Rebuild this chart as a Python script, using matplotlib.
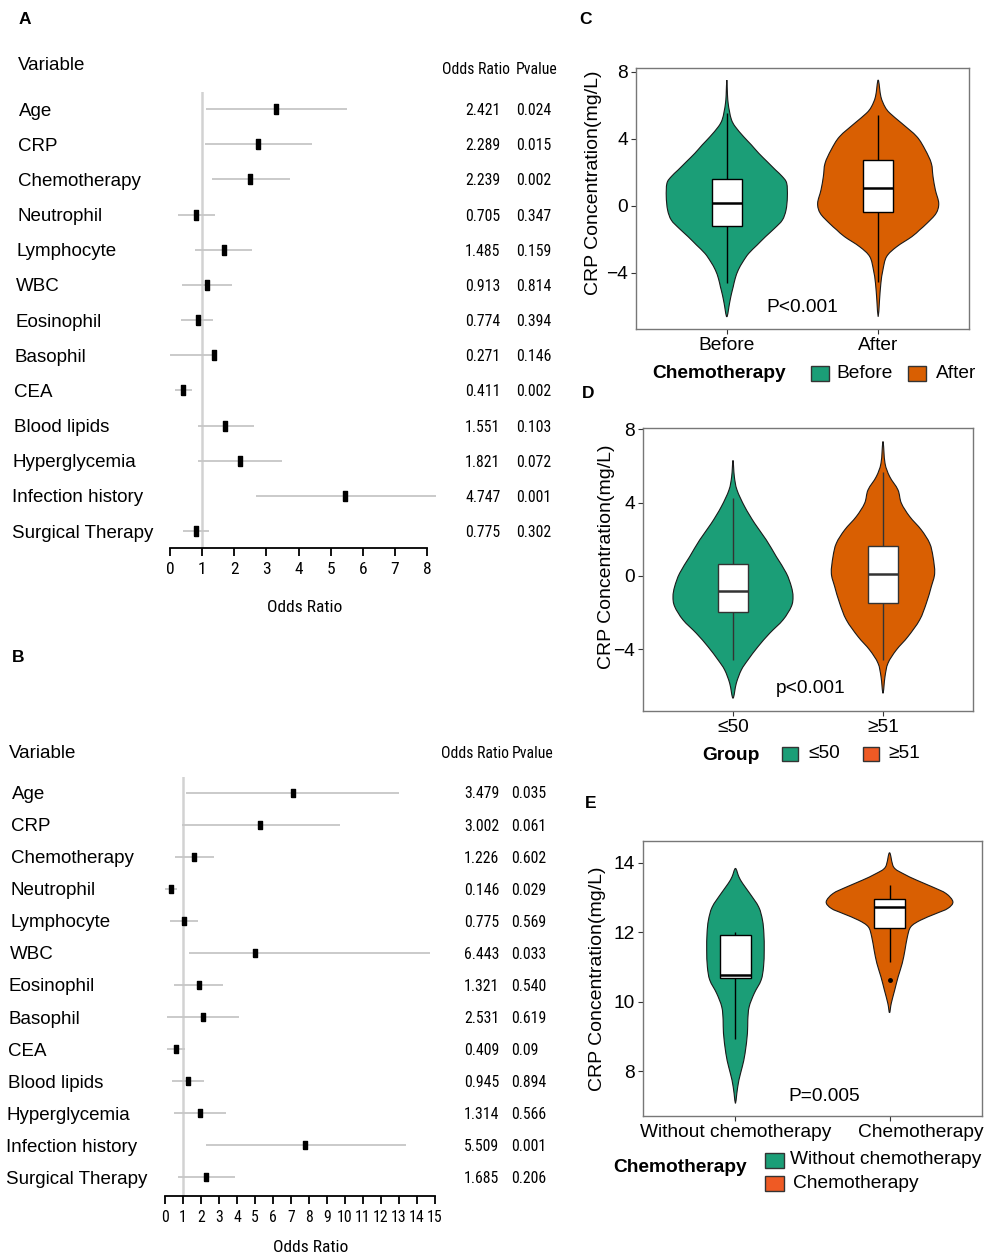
import os

import numpy as np
import matplotlib

matplotlib.use("Agg")
import matplotlib.pyplot as plt
from matplotlib import font_manager
from matplotlib.font_manager import FontProperties
from matplotlib.path import Path
from matplotlib.patches import PathPatch, Rectangle
from matplotlib.transforms import blended_transform_factory, ScaledTranslation

W, H = 985, 1254

# ---- forest plot data ------------------------------------------------------
VARIABLES = ["Age", "CRP", "Chemotherapy", "Neutrophil", "Lymphocyte", "WBC",
             "Eosinophil", "Basophil", "CEA", "Blood lipids", "Hyperglycemia",
             "Infection history", "Surgical Therapy"]

A_EST = [3.30, 2.75, 2.50, 0.82, 1.67, 1.16, 0.86, 1.38, 0.42, 1.71, 2.17, 5.46, 0.80]
A_LO = [1.12, 1.09, 1.31, 0.25, 0.78, 0.37, 0.35, 0.00, 0.16, 0.86, 0.88, 2.68, 0.40]
A_HI = [5.51, 4.42, 3.73, 1.39, 2.55, 1.94, 1.35, 1.47, 0.68, 2.60, 3.49, 8.29, 1.21]
A_OR = ["2.421", "2.289", "2.239", "0.705", "1.485", "0.913", "0.774", "0.271",
        "0.411", "1.551", "1.821", "4.747", "0.775"]
A_P = ["0.024", "0.015", "0.002", "0.347", "0.159", "0.814", "0.394", "0.146",
       "0.002", "0.103", "0.072", "0.001", "0.302"]

B_EST = [7.10, 5.30, 1.63, 0.36, 1.07, 5.00, 1.90, 2.10, 0.60, 1.28, 1.92, 7.80, 2.30]
B_LO = [1.17, 0.93, 0.53, 0.00, 0.29, 1.34, 0.50, 0.12, 0.12, 0.39, 0.50, 2.30, 0.73]
B_HI = [13.0, 9.70, 2.70, 0.67, 1.84, 14.7, 3.20, 4.10, 1.10, 2.17, 3.40, 13.4, 3.90]
B_OR = ["3.479", "3.002", "1.226", "0.146", "0.775", "6.443", "1.321", "2.531",
        "0.409", "0.945", "1.314", "5.509", "1.685"]
B_P = ["0.035", "0.061", "0.602", "0.029", "0.569", "0.033", "0.540", "0.619",
       "0.09", "0.894", "0.566", "0.001", "0.206"]

# ---- violin data: outline profile (value, relative half width) + box stats --
C_CATS = ["Before", "After"]
C_BEFORE_Y = [7.50, 6.60, 6.11, 5.62, 5.12, 4.72, 4.12, 3.63, 3.13, 2.63, 2.13, 1.74,
              1.34, 0.54, -0.26, -0.86, -1.35, -1.85, -2.35, -2.85, -3.34, -3.84,
              -4.34, -4.84, -5.33, -5.83, -6.63]
C_BEFORE_W = [0, 2, 4, 8, 14, 25, 50, 73, 95, 120, 145, 165, 178, 180, 176, 165,
              142, 115, 90, 65, 48, 34, 25, 19, 13, 8, 0]
C_AFTER_Y = [7.50, 6.51, 5.91, 5.52, 4.92, 4.12, 3.33, 2.53, 1.74, 0.94, 0.14, -0.46,
             -1.05, -1.45, -1.85, -2.45, -3.04, -3.84, -4.63, -5.63, -6.63]
C_AFTER_W = [0, 8, 20, 35, 70, 115, 140, 158, 163, 170, 180, 172, 145, 123, 100,
             55, 25, 14, 8, 4, 0]
C_BOXES = [(-4.60, -1.21, 0.18, 1.61, 5.51), (-4.53, -0.40, 1.08, 2.73, 5.41)]

D_CATS = ["≤50", "≥51"]
D_LOW_Y = [6.30, 5.42, 4.69, 3.78, 2.87, 1.96, 1.05, 0.15, -0.58, -1.13, -1.67,
           -2.40, -3.13, -3.86, -4.58, -5.13, -5.85, -6.67]
D_LOW_W = [0, 4, 12, 35, 65, 100, 130, 160, 175, 180, 175, 150, 110, 75, 45, 25, 10, 0]
D_HIGH_Y = [7.33, 6.15, 5.42, 4.69, 3.97, 3.24, 2.51, 1.78, 1.05, 0.15, -0.58,
            -1.49, -2.40, -3.31, -4.04, -4.76, -5.49, -6.40]
D_HIGH_W = [0, 6, 20, 45, 55, 80, 115, 140, 150, 155, 145, 130, 110, 75, 40, 15, 6, 0]
D_BOXES = [(-4.58, -1.95, -0.80, 0.64, 4.24), (-4.58, -1.47, 0.09, 1.64, 5.69)]

E_CATS = ["Without chemotherapy", "Chemotherapy"]
E_WO_Y = [13.83, 13.59, 13.40, 13.11, 12.72, 12.34, 11.96, 11.48, 11.00, 10.62,
          10.24, 9.85, 9.47, 9.09, 8.51, 8.13, 7.74, 7.36, 7.07]
E_WO_W = [0, 10, 21, 42, 68, 79, 83, 84, 82, 75, 55, 40, 36, 35, 28, 20, 10, 4, 0]
E_CH_Y = [14.28, 13.87, 13.68, 13.49, 13.30, 13.11, 12.87, 12.68, 12.53, 12.34,
          12.15, 11.86, 11.48, 11.10, 10.71, 10.33, 9.95, 9.68]
E_CH_W = [0, 12, 40, 80, 125, 165, 185, 170, 135, 90, 62, 52, 45, 37, 25, 15, 5, 0]
E_BOXES = [(8.92, 10.68, 10.76, 11.93, 12.00), (11.14, 12.13, 12.71, 12.95, 13.35)]
E_OUTLIERS = [[], [10.62]]

GREEN = "#1B9E77"
ORANGE = "#D95F02"
LEGEND_ORANGE = "#EF5A24"
WIDTH_SCALE = 0.4 / 180
BOX_HALF = 0.1

plt.rcParams["font.family"] = ["Liberation Sans", "DejaVu Sans"]

RECT_MARKER = [(-0.22, -0.5), (0.22, -0.5), (0.22, 0.5), (-0.22, 0.5), (-0.22, -0.5)]


def find_narrow():
    prefs = ["LiberationSansNarrow-Regular", "ArialNarrow", "RobotoCondensed-Regular",
             "NotoSans-Condensed.", "DejaVuSansCondensed.ttf", "OpenSans_Condensed-Regular",
             "OpenSans-CondensedRegular"]
    files = [f.fname for f in font_manager.fontManager.ttflist]
    for p in prefs:
        for fn in files:
            if p in os.path.basename(fn):
                return fn
    return None


def px_axes(fig, left, top, right, bottom):
    return fig.add_axes([left / W, 1 - bottom / H, (right - left) / W, (bottom - top) / H])


def ftext(fig, x, y, s, **kw):
    return fig.text(x / W, 1 - y / H, s, **kw)


fig = plt.figure(figsize=(W / 100, H / 100), dpi=100)
fig.patch.set_facecolor("white")

# narrow font for the numeric columns: size it so "2.421" is ~35 px wide
_nf = find_narrow()
NARROW = FontProperties(fname=_nf) if _nf else FontProperties(family="Liberation Sans")
NARROW.set_size(10)
_t = fig.text(0, 0, "2.421", fontproperties=NARROW)
_w = _t.get_window_extent(fig.canvas.get_renderer()).width
_t.remove()
NARROW.set_size(max(10.3, 10 * 35.0 / _w))
NARROW_HEAD = NARROW.copy()
NARROW_HEAD.set_size(NARROW.get_size() if _nf else 10.0)
NARROW_BIG = NARROW.copy()
NARROW_BIG.set_size(NARROW.get_size() * (1.1 if _nf else 1.0))


def forest(fig, rect, xmax, row0, step, est, lo, hi, or_txt, p_txt, lay):
    ax = px_axes(fig, *rect)
    rows = np.arange(len(VARIABLES))
    ax.set_xlim(0, xmax)
    ax.set_ylim((rect[3] - row0) / step, (rect[1] - row0) / step)
    ax.axvline(1, color="#d2d2d2", lw=1.8, zorder=1)
    ax.hlines(rows, lo, hi, color="#c6c6c6", lw=1.3, zorder=2, clip_on=False)
    ax.plot(est, rows, ls="none", marker=RECT_MARKER, ms=lay["ms"], color="black",
            zorder=3, clip_on=False)
    for side in ("left", "top", "right"):
        ax.spines[side].set_visible(False)
    ax.spines["bottom"].set_linewidth(1.3)
    ax.set_yticks([])
    ax.set_xticks(range(xmax + 1))
    ax.tick_params(axis="x", direction="out", length=6, width=1.3, pad=4)
    for lab in ax.get_xticklabels():
        lab.set_fontproperties(NARROW if xmax > 10 else NARROW_BIG)
    ax.patch.set_alpha(0)

    trans = blended_transform_factory(fig.transFigure, ax.transData)
    for i, name in enumerate(VARIABLES):
        ax.text((lay["lab_x"] - lay["drift"] * i) / W, i, name, transform=trans,
                ha="left", va="center_baseline", fontsize=13.5)
        ax.text(lay["or_x"] / W, i, or_txt[i], transform=trans, ha="left",
                va="center_baseline", fontproperties=NARROW)
        ax.text(lay["p_x"] / W, i, p_txt[i], transform=trans, ha="left",
                va="center_baseline", fontproperties=NARROW)

    ftext(fig, lay["var_x"], lay["head_y"], "Variable", ha="left", va="center", fontsize=13.5)
    ftext(fig, lay["hor_x"], lay["head_y"] + lay["head_dy"], "Odds Ratio", ha="center",
          va="center", fontproperties=NARROW_HEAD)
    ftext(fig, lay["hp_x"], lay["head_y"] + lay["head_dy"], "Pvalue", ha="center",
          va="center", fontproperties=NARROW_HEAD)
    ftext(fig, lay["xl_x"], lay["xl_y"], "Odds Ratio", ha="center", va="center",
          fontproperties=NARROW_BIG)
    return ax


def closed_spline(pts):
    n = len(pts)
    verts = [pts[0]]
    codes = [Path.MOVETO]
    for i in range(n):
        p0, p1, p2, p3 = pts[i - 1], pts[i], pts[(i + 1) % n], pts[(i + 2) % n]
        verts += [p1 + (p2 - p0) / 6, p2 - (p3 - p1) / 6, p2]
        codes += [Path.CURVE4] * 3
    verts.append(pts[0])
    codes.append(Path.CLOSEPOLY)
    return Path(verts, codes)


def draw_violin(ax, x, ys, ws, color):
    ys = np.asarray(ys, float)
    hw = np.asarray(ws, float) * WIDTH_SCALE
    right = np.column_stack([x + hw, ys])
    left = np.column_stack([x - hw[1:-1], ys[1:-1]])[::-1]
    pts = np.vstack([right, left])
    ax.add_patch(PathPatch(closed_spline(pts), fc=color, ec="#1a1a1a", lw=0.8, zorder=1))


def draw_box(ax, x, stats, edge):
    lo, q1, med, q3, hi = stats
    ax.vlines(x, lo, q1, color=edge, lw=1.0, zorder=2)
    ax.vlines(x, q3, hi, color=edge, lw=1.0, zorder=2)
    ax.add_patch(Rectangle((x - BOX_HALF, q1), 2 * BOX_HALF, q3 - q1, fc="white",
                           ec=edge, lw=1.0, zorder=3))
    ax.hlines(med, x - BOX_HALF, x + BOX_HALF, color=edge, lw=1.8, zorder=4)


def violin_panel(fig, rect, cats, profiles, boxes, ylim, yticks, ytlabels,
                 ptxt, ppos, ylab_xy, edge="black", outliers=None):
    ax = px_axes(fig, *rect)
    colors = [GREEN, ORANGE]
    for k, (ys, ws) in enumerate(profiles):
        draw_violin(ax, k + 1, ys, ws, colors[k])
        draw_box(ax, k + 1, boxes[k], edge)
        if outliers:
            ax.plot([k + 1] * len(outliers[k]), outliers[k], "o", ms=2.5,
                    color="black", zorder=5)
    ax.set_xlim(0.4, 2.6)
    ax.set_ylim(*ylim)
    ax.set_xticks([1, 2], cats)
    ax.set_yticks(yticks, ytlabels)
    for s in ax.spines.values():
        s.set_color("#777777")
        s.set_linewidth(1.0)
    ax.tick_params(length=3.5, width=0.8, color="#333333", labelsize=13.8, pad=2.5)
    ax.set_ylabel("CRP Concentration(mg/L)", fontsize=14)
    ax.yaxis.set_label_coords(*ylab_xy)
    ax.text(ppos[0], ppos[1], ptxt, ha="center", va="center", fontsize=13.8)
    return ax


def legend_square(fig, left, top, w, h, color):
    fig.add_artist(Rectangle((left / W, 1 - (top + h) / H), w / W, h / H, fc=color,
                             ec="#333333", lw=1.0, transform=fig.transFigure))


# ---- A ----
forest(fig, (170, 92, 427, 548), 8, 109, 35.17, A_EST, A_LO, A_HI, A_OR, A_P,
       dict(ms=6.5, lab_x=19, drift=0.6, or_x=465, p_x=516, var_x=18, head_y=66,
            head_dy=4, hor_x=476, hp_x=537, xl_x=305, xl_y=607))
# ---- B ----
forest(fig, (165, 777, 435, 1196), 15, 792.5, 32.08, B_EST, B_LO, B_HI, B_OR, B_P,
       dict(ms=5.8, lab_x=12, drift=0.5, or_x=464, p_x=511, var_x=9, head_y=753,
            head_dy=0, hor_x=475, hp_x=533, xl_x=311, xl_y=1247))

# ---- C ----
violin_panel(fig, (636, 68, 969, 329), C_CATS,
             [(C_BEFORE_Y, C_BEFORE_W), (C_AFTER_Y, C_AFTER_W)], C_BOXES,
             (-7.36, 8.22), [-4, 0, 4, 8], ["−4", "0", "4", "8"],
             "P<0.001", (1.50, -6.1), (-0.103, 0.56))
# ---- D ----
violin_panel(fig, (643, 428, 973, 711), D_CATS,
             [(D_LOW_Y, D_LOW_W), (D_HIGH_Y, D_HIGH_W)], D_BOXES,
             (-7.37, 8.07), [-4, 0, 4, 8], ["−4", "0", "4", "8"],
             "p<0.001", (1.52, -6.16), (-0.085, 0.545), edge="#333333")
# ---- E ----
axE = violin_panel(fig, (643, 841, 982, 1116), E_CATS,
                   [(E_WO_Y, E_WO_W), (E_CH_Y, E_CH_W)], E_BOXES,
                   (6.71, 14.62), [8, 10, 12, 14], ["8", "10", "12", "14"],
                   "P=0.005", (1.575, 7.28), (-0.108, 0.5), outliers=E_OUTLIERS)
lab = axE.get_xticklabels()[1]
lab.set_transform(lab.get_transform() + ScaledTranslation(0.31, 0, fig.dpi_scale_trans))

# ---- legends ----
ftext(fig, 652, 373, "Chemotherapy", ha="left", va="center", fontsize=13.8, fontweight="bold")
legend_square(fig, 811, 366, 18, 15, GREEN)
ftext(fig, 836, 373, C_CATS[0], ha="left", va="center", fontsize=13.8)
legend_square(fig, 908, 366, 18, 15, ORANGE)
ftext(fig, 936, 373, C_CATS[1], ha="left", va="center", fontsize=13.8)

ftext(fig, 702, 755, "Group", ha="left", va="center", fontsize=13.8, fontweight="bold")
legend_square(fig, 782, 747, 16, 14, GREEN)
ftext(fig, 808, 753, D_CATS[0], ha="left", va="center", fontsize=13.8)
legend_square(fig, 863, 747, 16, 14, LEGEND_ORANGE)
ftext(fig, 888, 753, D_CATS[1], ha="left", va="center", fontsize=13.8)

ftext(fig, 613, 1168, "Chemotherapy", ha="left", va="center", fontsize=13.8, fontweight="bold")
legend_square(fig, 765, 1153, 19, 15, GREEN)
ftext(fig, 790, 1160, E_CATS[0], ha="left", va="center", fontsize=13.8)
legend_square(fig, 765, 1176, 19, 15, LEGEND_ORANGE)
ftext(fig, 793, 1183, E_CATS[1], ha="left", va="center", fontsize=13.8)

# ---- panel letters ----
for letter, (x, y) in zip("ABCDE", [(25, 20), (18, 657), (586, 20), (588, 393), (591, 803)]):
    ftext(fig, x, y, letter, ha="center", va="center", fontsize=12.5, fontweight="bold")

fig.savefig("out.png", dpi=100, facecolor="white")
